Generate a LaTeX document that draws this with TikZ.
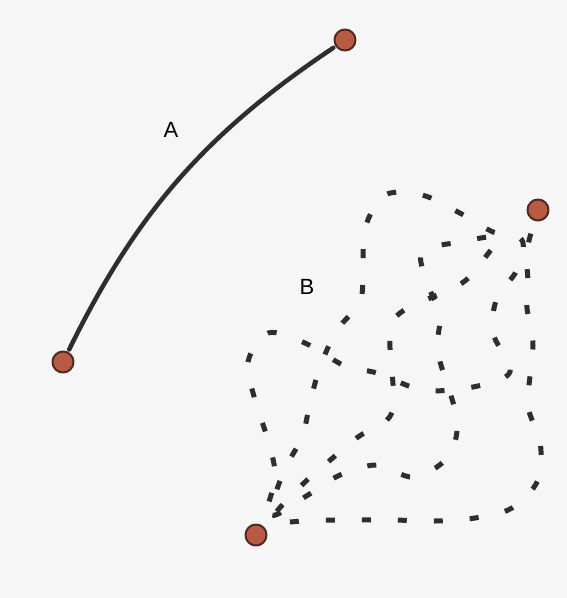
\documentclass[tikz,border=0pt]{standalone}
\usepackage{fontspec}
\setsansfont{Liberation Sans}
\definecolor{dotred}{HTML}{B85A44}
\definecolor{dotrim}{HTML}{4D2B22}
\definecolor{inkgray}{HTML}{2E2E2E}
\definecolor{paper}{HTML}{F6F6F6}
\tikzset{
  endpt/.style={circle,fill=dotred,draw=dotrim,line width=2pt,minimum size=21pt,inner sep=0pt},
  routeA/.style={draw=inkgray,line width=4.5pt,line cap=round},
  routeB/.style={draw=inkgray,line width=5pt,line cap=butt,dash pattern=on 9pt off 27pt}
}
\begin{document}
\begin{tikzpicture}[x=1pt,y=-1pt,line join=round,font=\sffamily\fontsize{22}{24}\selectfont]
				\fill[paper] (0,0) rectangle (567,598);
				\useasboundingbox (0,0) rectangle (567,598);
				% end points
				\coordinate (a1) at (63,362);
				\coordinate (a2) at (345,40);
				\coordinate (b1) at (256,535);
				\coordinate (b2) at (538,210);
				% route A
				\draw[routeA,shorten <=14pt,shorten >=14pt] (a1) to[bend left=15] (a2);
				% route B
				\draw[routeB] plot[smooth,tension=0.55] coordinates {(b1) (268,505) (275,473) (267,437) (255,400) (248,362) (268,333) (305,343) (345,366) (377,373) (423,390) (473,387) (510,372) (493,333) (497,298) (517,270) (522,240) (493,232) (458,212) (422,195) (385,195) (365,228) (363,267) (360,302) (337,330) (320,367) (310,403) (302,437) (283,473) (272,515) (308,495) (340,475) (377,465) (413,477) (447,458) (457,420) (438,353) (440,315) (428,285) (422,252) (460,242) (497,237) (487,255) (462,283) (400,313) (390,340) (392,412) (358,437) (328,462) (300,487) (273,520) (317,520) (355,520) (393,520) (435,521) (475,518) (512,508) (538,480) (540,440) (528,405) (533,345) (527,308) (528,282) (527,250) (b2)};
				\node[endpt] (dotA1) at (a1) {};
				\node[endpt] (dotA2) at (a2) {};
				\node[endpt] (dotB1) at (b1) {};
				\node[endpt] (dotB2) at (b2) {};
				\node (labA) at (171,130) {A};
				\node (labB) at (307,287) {B};
\end{tikzpicture}
\end{document}
